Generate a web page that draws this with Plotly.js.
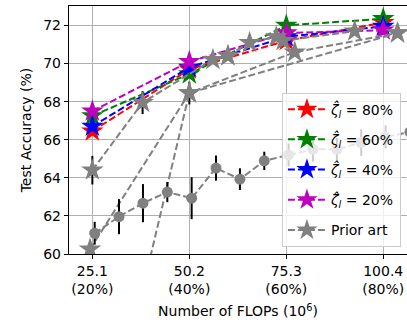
<!DOCTYPE html>
<html><head><meta charset="utf-8">
<script src="https://cdn.plot.ly/plotly-3.0.1.min.js"></script>
<style>html,body{margin:0;padding:0;background:#fff}#c{width:407px;height:325px}</style>
</head><body><div id="c"></div>
<script>
const flops = [25.1, 50.2, 75.3, 100.4];
const tickLabels = ['25.1<br>(20%)', '50.2<br>(40%)', '75.3<br>(60%)', '100.4<br>(80%)'];
const ours80 = [66.45, 69.7, 71.2, 72.15];
const ours60 = [67.25, 69.45, 72.0, 72.35];
const ours40 = [66.7, 69.8, 71.4, 71.95];
const ours20 = [67.5, 70.1, 71.6, 71.75];

// prior art (stars)
const pa1x = [25.1, 38.1, 56.3, 60.2];
const pa1y = [64.4, 67.95, 70.2, 70.4];
const pa1e = [0.75, 0.6, 0, 0];
const pa2x = [24.5, 50.2, 77.5, 104.1];
const pa2y = [60.25, 68.45, 70.6, 71.6];
const pa2e = [0, 0.6, 0, 0];
const pa3x = [37.7, 50.2, 104.1];
const pa3y = [57.8, 68.45, 71.6];
const pa4x = [60.2, 65.8, 72.7, 74.5, 93.0];
const pa4y = [70.4, 71.1, 71.4, 71.2, 71.7];
// prior art (circles with error bars)
const pcx = [25.7, 32.0, 38.2, 44.5, 50.8, 57.1, 63.3, 69.6, 75.9, 82.2, 88.4, 94.7, 101.0, 107.3];
const pcy = [61.09, 61.96, 62.67, 63.25, 62.93, 64.51, 63.93, 64.89, 65.2, 65.5, 65.5, 65.85, 66.15, 66.4];
const pce = [0.6, 0.92, 1.0, 0.53, 1.1, 0.66, 0.57, 0.48, 0.6, 0.65, 0.6, 0.7, 0.6, 0.6];

const names = ['<i>ζ̂</i><sub><i>l</i></sub> = 80%', '<i>ζ̂</i><sub><i>l</i></sub> = 60%', '<i>ζ̂</i><sub><i>l</i></sub> = 40%', '<i>ζ̂</i><sub><i>l</i></sub> = 20%'];
const cols = ['#ff0000', '#008000', '#0000ff', '#bf00bf'];
const oursY = [ours80, ours60, ours40, ours20];

const gray = '#808080';
const dash = '7px,3px';
const traces = [];
oursY.forEach((y, i) => traces.push({
  x: flops, y: y, mode: 'lines+markers', name: names[i], legendrank: i + 1, legendgroup: 'g' + i,
  line: {color: cols[i], width: 2, dash: dash},
  marker: {symbol: 'star', size: 17, color: cols[i], line: {width: 0}}
}));
function star(x, y, e, show) {
  const t = {
    x: x, y: y, mode: 'lines+markers', name: 'Prior art', legendgroup: 'pa', showlegend: show, legendrank: 5,
    line: {color: gray, width: 2, dash: dash},
    marker: {symbol: 'star', size: 17, color: gray, line: {width: 0}}
  };
  if (e) t.error_y = {type: 'data', array: e, visible: true, color: '#000', thickness: 2, width: 0};
  return t;
}
traces.push(star(pa1x, pa1y, pa1e, true));
traces.push(star(pa2x, pa2y, pa2e, false));
traces.push(star(pa3x, pa3y, null, false));
traces.push(star(pa4x, pa4y, null, false));
traces.push({
  x: pcx, y: pcy, mode: 'lines+markers', showlegend: false, legendgroup: 'pa', legendrank: 6,
  line: {color: gray, width: 2, dash: dash},
  marker: {symbol: 'circle', size: 11, color: gray},
  error_y: {type: 'data', array: pce, visible: true, color: '#000', thickness: 2, width: 0}
});

const font = {family: 'DejaVu Sans', size: 14, color: '#000'};
const layout = {
  width: 407, height: 325,
  margin: {l: 69, r: 0, t: 6, b: 71},
  paper_bgcolor: '#fff', plot_bgcolor: '#fff',
  font: font,
  showlegend: true,
  legend: {x: 0.63, y: 0.03, xanchor: 'left', yanchor: 'bottom', bgcolor: 'rgba(255,255,255,0.8)',
    bordercolor: '#cccccc', borderwidth: 1, font: {family: 'DejaVu Sans', size: 14},
    traceorder: 'grouped', tracegroupgap: 9, itemwidth: 38},
  xaxis: {range: [19.05, 106.55], tickvals: flops, ticktext: tickLabels, showgrid: true, gridcolor: '#b0b0b0', gridwidth: 1,
    showline: true, mirror: true, linecolor: '#000', linewidth: 1.2, ticks: 'outside', ticklen: 4, tickcolor: '#000',
    zeroline: false, tickfont: font,
    title: {text: 'Number of FLOPs (10<sup>6</sup>)', font: font, standoff: 10}},
  yaxis: {range: [60, 73.02], tickvals: [60, 62, 64, 66, 68, 70, 72], showgrid: true, gridcolor: '#b0b0b0', gridwidth: 1,
    showline: true, mirror: true, linecolor: '#000', linewidth: 1.2, ticks: 'outside', ticklen: 4, tickcolor: '#000',
    zeroline: false, tickfont: font,
    title: {text: 'Test Accuracy (%)', font: font, standoff: 8}}
};
Plotly.newPlot('c', traces, layout, {displayModeBar: false, staticPlot: true});
</script></body></html>
